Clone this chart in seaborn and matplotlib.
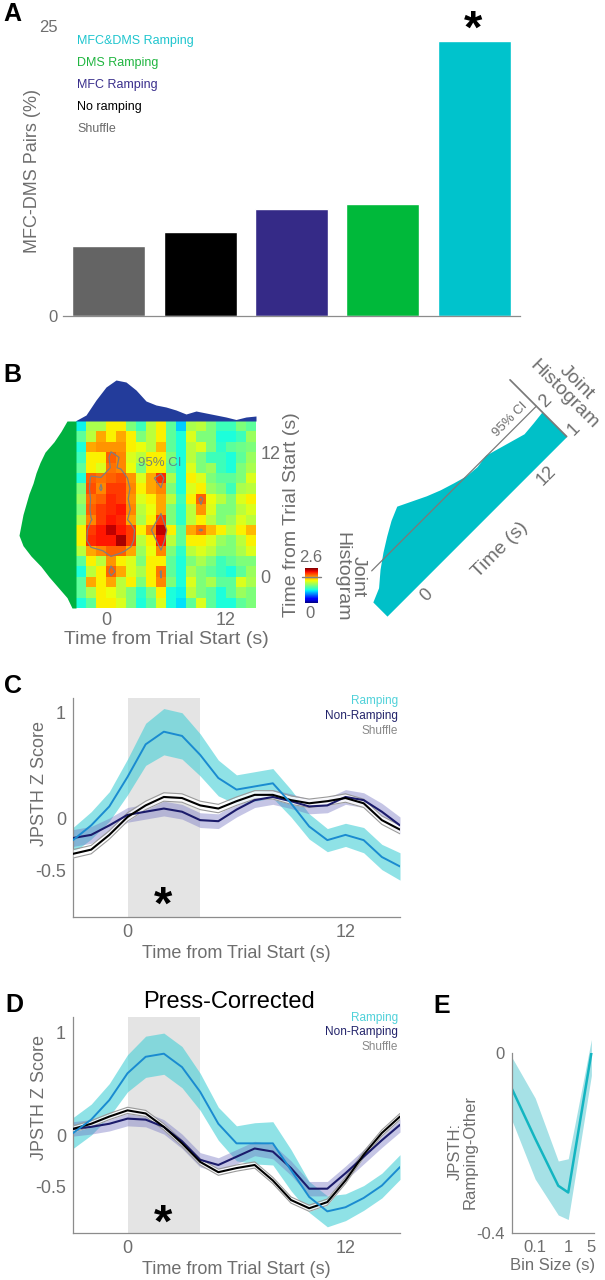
import numpy as np
import pandas as pd
import matplotlib
matplotlib.use("Agg")
import matplotlib.pyplot as plt
import seaborn as sns
from matplotlib.transforms import Affine2D
from matplotlib.ticker import NullLocator
import mpl_toolkits.axisartist.floating_axes as floating_axes
from mpl_toolkits.axisartist.grid_finder import FixedLocator, DictFormatter

# ---------------- data ----------------
# Panel A
bar_categories = ["Shuffle", "No ramping", "MFC Ramping", "DMS Ramping", "MFC&DMS Ramping"]
bar_values = [6.0, 7.25, 9.2, 9.65, 23.7]
bar_colors = ["#646464", "#000000", "#352a87", "#00b93a", "#00c3cc"]
legend_text_colors = ["#6a6a6a", "#000000", "#3a2f8c", "#20b540", "#1fc5ce"]

# Panel B - joint histogram (rows: top = late time, 1-s bins from -3 to 15 s)
hm_t0, hm_t1 = -3, 15
hm_matrix = np.array([
    [0.95, 1.45, 1.45, 1.7, 1.7, 1.3, 1.1, 1.5, 1.7, 1.2, 0.85, 1.45, 1.5, 1.3, 1.1, 1.1, 1.3, 1.2],
    [1.2, 1.5, 1.9, 1.7, 1.9, 1.7, 1.3, 1.5, 1.7, 1.2, 1.0, 1.6, 1.3, 1.3, 1.0, 1.0, 1.1, 1.4],
    [1.0, 1.9, 1.95, 1.95, 1.95, 1.7, 1.65, 1.5, 1.85, 1.2, 1.0, 1.5, 1.6, 1.3, 1.05, 1.2, 1.25, 1.3],
    [1.1, 1.7, 1.7, 2.1, 2.0, 1.6, 1.5, 1.7, 1.7, 1.3, 1.0, 1.5, 1.3, 1.1, 1.1, 1.0, 1.2, 1.4],
    [1.2, 1.7, 1.6, 2.05, 2.0, 1.65, 1.3, 1.7, 1.7, 1.2, 1.0, 1.6, 1.3, 1.4, 1.1, 1.0, 1.3, 1.45],
    [1.0, 2.1, 2.05, 2.1, 2.15, 1.95, 1.6, 1.9, 2.25, 1.45, 1.0, 1.7, 1.6, 1.3, 1.2, 1.2, 1.3, 1.6],
    [1.3, 2.15, 2.0, 2.2, 2.2, 2.0, 1.7, 1.9, 2.0, 1.3, 1.0, 1.6, 1.7, 1.4, 1.3, 1.1, 1.45, 1.5],
    [1.4, 2.05, 2.1, 2.25, 2.2, 1.95, 1.6, 1.7, 1.9, 1.5, 1.1, 1.7, 2.1, 1.65, 1.5, 1.3, 1.6, 1.7],
    [1.3, 2.1, 2.2, 2.25, 2.3, 2.0, 1.5, 1.65, 1.9, 1.3, 1.05, 1.5, 1.95, 1.6, 1.3, 1.3, 1.5, 1.6],
    [1.45, 2.0, 2.2, 2.3, 2.25, 1.9, 1.45, 1.7, 2.2, 1.3, 1.05, 1.5, 1.7, 1.5, 1.3, 1.4, 1.6, 1.5],
    [1.7, 2.2, 2.3, 2.45, 2.3, 2.2, 1.7, 2.0, 2.45, 1.7, 1.2, 1.9, 2.05, 1.85, 1.7, 1.5, 1.7, 1.85],
    [1.7, 2.25, 2.3, 2.3, 2.5, 2.2, 1.5, 1.7, 2.3, 1.5, 1.2, 1.7, 1.7, 1.6, 1.4, 1.3, 1.5, 1.7],
    [1.5, 1.9, 2.0, 2.1, 2.1, 1.9, 1.4, 1.65, 2.0, 1.3, 1.05, 1.5, 1.6, 1.5, 1.3, 1.3, 1.45, 1.6],
    [1.2, 1.7, 1.5, 1.95, 1.7, 1.6, 1.3, 1.7, 1.7, 1.2, 1.0, 1.3, 1.45, 1.3, 1.1, 1.2, 1.3, 1.3],
    [1.0, 1.5, 1.7, 2.1, 1.9, 1.6, 1.45, 1.7, 2.05, 1.2, 1.0, 1.45, 1.3, 1.2, 1.1, 1.0, 1.2, 1.4],
    [1.2, 1.9, 1.7, 1.9, 1.5, 1.7, 1.3, 1.7, 2.0, 1.3, 1.0, 1.6, 1.3, 1.45, 1.2, 1.2, 1.6, 1.45],
    [1.2, 1.45, 1.7, 1.65, 1.5, 1.3, 1.05, 1.3, 1.7, 1.0, 0.95, 1.5, 1.3, 1.2, 1.0, 1.2, 1.4, 1.3],
    [1.0, 1.2, 1.7, 1.7, 1.6, 1.3, 1.0, 1.2, 1.6, 1.0, 0.9, 1.2, 1.6, 1.2, 1.0, 1.0, 1.2, 1.3],
])
hm_ci_level = 2.02
cbar_ci_mark = 1.9

marg_t = [-3, -2, -1, 0, 1, 2, 3, 4, 5, 6, 7, 8, 9, 10, 11, 12, 13, 14, 15]
top_marginal = [0.5, 6, 21, 34, 41, 39, 31, 20, 16, 14, 11, 7, 10, 8, 6, 4, 1.5, 4, 5]
left_marginal = [4, 9, 18, 27, 35, 45, 53, 57, 55, 53, 50, 47, 43, 40, 36, 31, 22, 15, 9]

diag_t = [-3, -2, -1, 0, 1, 2, 3, 4, 5, 6, 7, 8, 9, 10, 11, 12, 13, 14, 15]
diag_v = [1.5, 1.65, 1.95, 2.2, 2.42, 2.62, 2.77, 2.6, 2.43, 2.29, 2.18, 2.08, 2.05, 2.1,
          2.0, 1.9, 1.8, 1.83, 1.87]
diag_ci_t = [-1.5, 15]
diag_ci_v = [2.07, 2.07]

# Panels C / D
t_sec = [-3, -2, -1, 0, 1, 2, 3, 4, 5, 6, 7, 8, 9, 10, 11, 12, 13, 14, 15]
shade_span = [0, 4]

c_ramp = [-0.21, -0.07, 0.11, 0.39, 0.70, 0.82, 0.78, 0.60, 0.38, 0.27, 0.30, 0.33, 0.14,
          -0.08, -0.21, -0.16, -0.21, -0.37, -0.46]
c_ramp_sem = [0.12, 0.13, 0.14, 0.17, 0.2, 0.22, 0.22, 0.2, 0.17, 0.14, 0.14, 0.14, 0.13,
              0.12, 0.11, 0.11, 0.12, 0.12, 0.13]
c_non = [-0.19, -0.16, -0.07, 0.03, 0.06, 0.09, 0.06, -0.02, -0.03, 0.08, 0.17, 0.20, 0.16,
         0.11, 0.12, 0.20, 0.17, 0.06, -0.07]
c_non_sem = [0.08, 0.08, 0.07, 0.07, 0.07, 0.07, 0.07, 0.07, 0.07, 0.07, 0.07, 0.07, 0.07,
             0.07, 0.07, 0.07, 0.07, 0.08, 0.08]
c_shuf = [-0.34, -0.30, -0.16, 0.01, 0.12, 0.20, 0.19, 0.12, 0.09, 0.16, 0.22, 0.22, 0.17,
          0.14, 0.16, 0.19, 0.14, -0.02, -0.11]
c_shuf_sem = [0.04] * 19

d_ramp = [0.02, 0.15, 0.34, 0.60, 0.76, 0.79, 0.66, 0.42, 0.11, -0.08, -0.08, -0.08, -0.34,
          -0.60, -0.74, -0.70, -0.61, -0.49, -0.31]
d_ramp_sem = [0.15, 0.15, 0.16, 0.18, 0.2, 0.2, 0.2, 0.18, 0.16, 0.17, 0.2, 0.21, 0.2,
              0.15, 0.15, 0.13, 0.12, 0.12, 0.12]
d_non = [0.06, 0.08, 0.11, 0.16, 0.15, 0.08, -0.06, -0.24, -0.29, -0.21, -0.13, -0.16, -0.32,
         -0.52, -0.52, -0.37, -0.21, -0.05, 0.10]
d_non_sem = [0.07] * 19
d_shuf = [0.06, 0.11, 0.18, 0.24, 0.21, 0.08, -0.08, -0.26, -0.36, -0.32, -0.29, -0.44, -0.63,
          -0.71, -0.65, -0.44, -0.19, 0.02, 0.18]
d_shuf_sem = [0.03] * 19

# Panel E
bin_sizes = [0.02, 0.1, 0.5, 1, 5]
e_mean = [-0.08, -0.19, -0.295, -0.31, 0.0]
e_low = [-0.15, -0.28, -0.36, -0.37, -0.05]
e_high = [-0.01, -0.10, -0.24, -0.235, 0.03]

# ---------------- style ----------------
sns.set_theme(style="white")
plt.rcParams["font.family"] = ["Liberation Sans", "DejaVu Sans"]
GRAY = "#6e6e6e"
SPINE = "#8c8c8c"

W, H = 605, 1280
fig = plt.figure(figsize=(W / 100, H / 100), dpi=100)


def frect(l, t, r, b):
    return [l / W, 1 - b / H, (r - l) / W, (b - t) / H]


def ftext(x, y, s, **kw):
    return fig.text(x / W, 1 - y / H, s, **kw)


def style_axes(ax):
    for side in ["top", "right"]:
        ax.spines[side].set_visible(False)
    for side in ["left", "bottom"]:
        ax.spines[side].set_color(SPINE)
        ax.spines[side].set_linewidth(0.9)
    ax.tick_params(length=0, labelcolor=GRAY, labelsize=13, pad=5)


# ---------------- Panel A ----------------
axA = fig.add_axes(frect(63, 26, 520, 316))
dfA = pd.DataFrame({"category": bar_categories, "pct": bar_values})
sns.barplot(data=dfA, x="category", y="pct", hue="category", order=bar_categories,
            hue_order=bar_categories, palette=bar_colors, saturation=1, width=0.8,
            errorbar=None, legend=False, ax=axA)
axA.set_xlim(-0.5, 4.5)
axA.set_ylim(0, 25)
axA.set_yticks([0, 25])
axA.set_xticks([])
axA.set_xlabel("")
style_axes(axA)
axA.spines["left"].set_visible(False)
axA.tick_params(axis="y", length=3, color=SPINE, labelsize=12, pad=1)
axA.set_ylabel("MFC-DMS Pairs (%)", fontsize=13, color=GRAY)
axA.yaxis.set_label_coords((41 - 63) / 457, 0.5)
for i, (cat, col) in enumerate(zip(bar_categories[::-1], legend_text_colors[::-1])):
    ftext(77, 41 + 22 * i, cat, color=col, fontsize=9, va="center", ha="left")
ftext(473, 31, "*", fontsize=34, fontweight="bold", ha="center", va="center", color="black")

# ---------------- Panel B (heatmap) ----------------
axH = fig.add_axes(frect(76, 421, 256, 608))
cax = fig.add_axes(frect(305, 568, 318, 603))
sns.heatmap(hm_matrix, cmap="jet", vmin=0, vmax=2.6, ax=axH, cbar_ax=cax,
            xticklabels=False, yticklabels=False)
cx = np.arange(hm_matrix.shape[1]) + 0.5
cy = np.arange(hm_matrix.shape[0]) + 0.5
axH.contour(cx, cy, hm_matrix, levels=[hm_ci_level], colors="#7f7f7f", linewidths=0.9)
xt = [0, 12]
axH.set_xticks([t - hm_t0 for t in xt])
axH.set_xticklabels([str(t) for t in xt], rotation=0)
axH.yaxis.tick_right()
axH.set_yticks([hm_t1 - t for t in xt])
axH.set_yticklabels([str(t) for t in xt], rotation=0)
axH.tick_params(length=0, labelcolor=GRAY, labelsize=13, pad=3)
axH.set_xlabel("Time from Trial Start (s)", fontsize=14, color=GRAY, labelpad=1)
axH.yaxis.set_label_position("right")
axH.set_ylabel("Time from Trial Start (s)", fontsize=14, color=GRAY, rotation=90, labelpad=2)
axH.text(5.4 - hm_t0, hm_t1 - 11.0, "95% CI", fontsize=9.5, color="#5f7286", ha="center",
         va="center", alpha=0.85)

cax.set_yticks([])
cax.axhline(cbar_ci_mark, xmin=-0.25, xmax=1.25, color="#808080", lw=1, clip_on=False)
for sp in cax.spines.values():
    sp.set_visible(False)
ftext(311, 558, "2.6", fontsize=12, color=GRAY, ha="center", va="center")
ftext(310, 613, "0", fontsize=12, color=GRAY, ha="center", va="center")
ftext(350, 577, "Joint\nHistogram", fontsize=14, color=GRAY, ha="center", va="center",
      rotation=-90, linespacing=1.0)

axT = fig.add_axes(frect(76, 376, 256, 421))
axT.fill_between(marg_t, 0, top_marginal, color="#233c9b", lw=0)
axT.set_xlim(hm_t0, hm_t1)
axT.set_ylim(0, 45)
axT.axis("off")

axL = fig.add_axes(frect(18, 421, 76, 608))
axL.fill_betweenx(marg_t, 0, left_marginal, color="#00b140", lw=0)
axL.set_ylim(hm_t0, hm_t1)
axL.set_xlim(58, 0)
axL.axis("off")

# ---------------- Panel B (rotated diagonal) ----------------
tr = Affine2D().scale(14.1, 40).rotate_deg(45)
gh = floating_axes.GridHelperCurveLinear(
    tr, extremes=(hm_t0, hm_t1, 1, 3),
    grid_locator1=FixedLocator([0, 12]),
    grid_locator2=FixedLocator([1, 2]),
    tick_formatter1=DictFormatter({0: "0", 12: "12"}),
    tick_formatter2=DictFormatter({1: "1", 2: "2"}))
axR = fig.add_axes(frect(328, 377, 569, 619), axes_class=floating_axes.FloatingAxes,
                   grid_helper=gh)
axR.patch.set_facecolor("none")
aux = axR.get_aux_axes(tr)
aux.fill_between(diag_t, 1, diag_v, color="#00c0c8", lw=0)
aux.plot(diag_ci_t, diag_ci_v, color="#7a7a7a", lw=0.9, zorder=5)
aux.text(13.0, 2.3, "95% CI", rotation=45, fontsize=9.5, color=GRAY, ha="center", va="center")
aux.text(17.6, 1.78, "Joint\nHistogram", rotation=-45, fontsize=14, color=GRAY, ha="center",
         va="center", linespacing=1.0, clip_on=False)
axR.axis["left"].set_visible(False)
axR.axis["top"].set_visible(False)
axR.axis["right"].toggle(ticklabels=True, label=False)
for side in ["bottom", "right"]:
    a = axR.axis[side]
    a.line.set_color("#7a7a7a")
    a.major_ticks.set_ticksize(0)
    a.major_ticklabels.set_color(GRAY)
    a.major_ticklabels.set_fontsize(13)
    a.label.set_color(GRAY)
    a.label.set_fontsize(14)
axR.axis["bottom"].line.set_visible(False)
axR.axis["bottom"].label.set_text("Time (s)")


# ---------------- Panels C / D ----------------
def jpsth_panel(ax, ramp, ramp_sem, non, non_sem, shuf, shuf_sem, ylim, label_y):
    t = np.array(t_sec, dtype=float)
    ramp, ramp_sem = np.array(ramp), np.array(ramp_sem)
    non, non_sem = np.array(non), np.array(non_sem)
    shuf, shuf_sem = np.array(shuf), np.array(shuf_sem)
    ax.axvspan(shade_span[0], shade_span[1], color="#e4e4e4", lw=0, zorder=0)
    ax.fill_between(t, ramp - ramp_sem, ramp + ramp_sem, color="#45cfd6", alpha=0.6, lw=0, zorder=1)
    ax.fill_between(t, non - non_sem, non + non_sem, color="#6f6fc0", alpha=0.4, lw=0, zorder=2)
    ax.fill_between(t, shuf - shuf_sem, shuf + shuf_sem, color="white", alpha=0.85, lw=0, zorder=3)
    ax.plot(t, shuf - shuf_sem, color="#9a9a9a", lw=0.8, zorder=3)
    ax.plot(t, shuf + shuf_sem, color="#9a9a9a", lw=0.8, zorder=3)
    sns.lineplot(x=t, y=non, color="#1b1b6b", lw=1.5, ax=ax, zorder=4)
    sns.lineplot(x=t, y=shuf, color="black", lw=1.5, ax=ax, zorder=4)
    sns.lineplot(x=t, y=ramp, color="#1a8bd0", lw=1.4, ax=ax, zorder=5)
    ax.set_xlim(t_sec[0], t_sec[-1])
    ax.set_ylim(*ylim)
    ax.set_xticks([0, 12])
    ax.set_xticklabels(["0", "12"])
    ax.set_yticks([-0.5, 0, 1])
    ax.set_yticklabels(["-0.5", "0", "1"])
    style_axes(ax)
    ax.set_xlabel("Time from Trial Start (s)", fontsize=13, color=GRAY, labelpad=3)
    ax.set_ylabel("JPSTH Z Score", fontsize=13, color=GRAY)
    ax.yaxis.set_label_coords((48 - 73) / 327, label_y)


axC = fig.add_axes(frect(73, 698, 400, 917))
jpsth_panel(axC, c_ramp, c_ramp_sem, c_non, c_non_sem, c_shuf, c_shuf_sem, (-0.94, 1.14), 0.61)
axD = fig.add_axes(frect(73, 1017, 400, 1233))
jpsth_panel(axD, d_ramp, d_ramp_sem, d_non, d_non_sem, d_shuf, d_shuf_sem, (-0.95, 1.146), 0.625)

leg_labels = ["Ramping", "Non-Ramping", "Shuffle"]
leg_colors = ["#4fd1d9", "#23246b", "#8a8a8a"]
for i, (lab, col) in enumerate(zip(leg_labels, leg_colors)):
    ftext(398, 701 + 15 * i, lab, color=col, fontsize=8.5, ha="right", va="center")
    ftext(398, 1018 + 14.5 * i, lab, color=col, fontsize=8.5, ha="right", va="center")
ftext(163, 907, "*", fontsize=34, fontweight="bold", ha="center", va="center", color="black")
ftext(163, 1225, "*", fontsize=34, fontweight="bold", ha="center", va="center", color="black")
ftext(229, 1002, "Press-Corrected", fontsize=17, color="black", ha="center", va="center")

# ---------------- Panel E ----------------
axE = fig.add_axes(frect(512, 1053, 594, 1233))
axE.fill_between(bin_sizes, e_low, e_high, color="#a6e1e6", lw=0, clip_on=False)
sns.lineplot(x=bin_sizes, y=e_mean, color="#13b5c1", lw=1.8, ax=axE)
axE.set_xscale("log")
axE.set_xlim(0.02, 6)
axE.set_ylim(-0.4, 0)
axE.set_xticks([0.1, 1, 5])
axE.set_xticklabels(["0.1", "1", "5"])
axE.xaxis.set_minor_locator(NullLocator())
axE.set_yticks([-0.4, 0])
axE.set_yticklabels(["-0.4", "0"])
style_axes(axE)
axE.tick_params(labelsize=12)
axE.set_xlabel("Bin Size (s)", fontsize=12, color=GRAY, labelpad=2)
axE.set_ylabel("JPSTH:\nRamping-Other", fontsize=12, color=GRAY, linespacing=1.0)
axE.yaxis.set_label_coords((478 - 512) / 82, 0.45)

# ---------------- panel letters ----------------
for lab, (x, y) in {"A": (12, 14), "B": (12, 375), "C": (13, 686), "D": (14, 1005),
                    "E": (442, 1006)}.items():
    ftext(x, y, lab, fontsize=18, fontweight="bold", ha="center", va="center", color="black")

fig.savefig("out.png", dpi=100)
